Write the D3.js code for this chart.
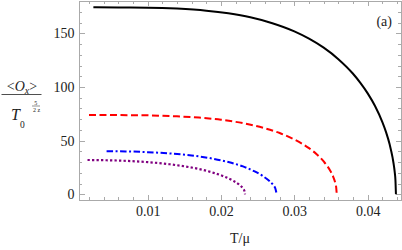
<!DOCTYPE html>
<html>
<head>
<meta charset="utf-8">
<script src="https://cdn.jsdelivr.net/npm/d3@7"></script>
<style>
  body { margin: 0; background: #fff; }
  .frame path, .frame line { stroke: #aaaaaa; stroke-width: 1; shape-rendering: crispEdges; }
</style>
</head>
<body>
<svg id="chart" width="402" height="250"></svg>
<script>
'use strict';
// order parameter <O_x>/T0^(5/2z) versus T/mu
var blackCurve = [[0.0026,174.3],[0.006,174.2],[0.010,174.0],[0.014,173.1],[0.018,171.2],[0.021,168.7],
  [0.024,165.0],[0.027,159.5],[0.030,151.9],[0.032,145.1],[0.034,136.7],[0.036,126.0],[0.038,112.4],
  [0.039,103.9],[0.040,94.1],[0.041,82.3],[0.042,67.3],[0.0425,58.0],[0.043,46.4],[0.0434,33.9],
  [0.0436,25.4],[0.0437,19.7],[0.04378,13.5],[0.04385,0]];
var redCurve = [[0.0020,73.9],[0.006,73.85],[0.010,73.6],[0.014,72.7],[0.017,71.5],[0.020,69.5],
  [0.023,66.3],[0.026,61.5],[0.028,57.1],[0.030,51.1],[0.032,43.0],[0.033,37.6],[0.034,30.6],
  [0.0348,23.1],[0.0353,16.3],[0.0356,10.0],[0.0357,6.7],[0.03578,0]];
var blueCurve = [[0.0044,40.2],[0.007,40.0],[0.010,39.3],[0.013,38.1],[0.016,36.2],[0.019,33.1],
  [0.021,30.1],[0.023,26.0],[0.0245,21.6],[0.0258,16.6],[0.0266,12.4],[0.0271,8.8],[0.0274,5.6],[0.0276,0]];
var purpleCurve = [[0.0018,32.0],[0.004,31.8],[0.007,31.2],[0.010,30.0],[0.013,28.0],[0.015,26.1],
  [0.017,23.6],[0.019,20.0],[0.0205,16.4],[0.0217,12.5],[0.0225,8.9],[0.023,5.4],[0.0232,3.0],[0.02328,0]];

var xTicks = [0.01, 0.02, 0.03, 0.04];
var yTicks = [0, 50, 100, 150];
var xMinor = d3.range(0.002, 0.0445, 0.002);
var yMinor = d3.range(0, 181, 10);

var serif = "'Liberation Serif'";

var svg = d3.select('#chart');
var plotL = 79, plotR = 401, plotT = 1, plotB = 200;

var x = d3.scaleLinear().domain([0.00064, 0.04454]).range([plotL, plotR]);
var y = d3.scaleLinear().domain([-5.3, 180.2]).range([plotB, plotT]);

// frame with inward ticks (Mathematica style)
function minorOnly(vals, majors) {
  return vals.filter(function(v) {
    return !majors.some(function(m) { return Math.abs(m - v) < 1e-9; });
  });
}
var xm = minorOnly(xMinor, xTicks), ym = minorOnly(yMinor, yTicks);

var gB = svg.append('g').attr('class', 'frame').attr('transform', 'translate(0,' + plotB + ')');
gB.call(d3.axisBottom(x).tickValues(xTicks).tickSize(-5).tickPadding(6.5).tickFormat(d3.format('.2f')));
gB.append('g').call(d3.axisBottom(x).tickValues(xm).tickSize(-3).tickFormat('')).select('.domain').remove();

var gT = svg.append('g').attr('class', 'frame').attr('transform', 'translate(0,' + plotT + ')');
gT.call(d3.axisTop(x).tickValues(xTicks).tickSize(-5).tickFormat(''));
gT.append('g').call(d3.axisTop(x).tickValues(xm).tickSize(-3).tickFormat('')).select('.domain').remove();

var gL = svg.append('g').attr('class', 'frame').attr('transform', 'translate(' + plotL + ',0)');
gL.call(d3.axisLeft(y).tickValues(yTicks).tickSize(-5.5).tickPadding(4.5));
gL.append('g').call(d3.axisLeft(y).tickValues(ym).tickSize(-3).tickFormat('')).select('.domain').remove();

var gR = svg.append('g').attr('class', 'frame').attr('transform', 'translate(' + plotR + ',0)');
gR.call(d3.axisRight(y).tickValues(yTicks).tickSize(-5.5).tickFormat(''));
gR.append('g').call(d3.axisRight(y).tickValues(ym).tickSize(-3).tickFormat('')).select('.domain').remove();

svg.selectAll('.frame text')
  .style('font-family', serif).style('font-size', '14px').attr('fill', '#222');

// curves
var line = d3.line()
  .x(function(d) { return x(d[0]); })
  .y(function(d) { return y(d[1]); })
  .curve(d3.curveMonotoneX);

var series = [
  { data: blackCurve, color: '#000', dash: null, width: 2 },
  { data: redCurve, color: '#ff0000', dash: '7,3.5', width: 2 },
  { data: blueCurve, color: '#0000ff', dash: '6.5,2.5,2,2.5', width: 2 },
  { data: purpleCurve, color: '#800080', dash: '2.3,2.2', width: 2.2 }
];
svg.append('g').selectAll('path').data(series).enter().append('path')
  .attr('d', function(d) { return line(d.data); })
  .attr('fill', 'none')
  .attr('stroke', function(d) { return d.color; })
  .attr('stroke-width', function(d) { return d.width; })
  .attr('stroke-dasharray', function(d) { return d.dash; });

var labels = svg.append('g').attr('fill', '#222');
function label(px, py, size, txt) {
  return labels.append('text').attr('x', px).attr('y', py)
    .style('font-family', serif).style('font-size', size + 'px').text(txt);
}

// panel tag
label(392, 26, 14, '(a)').attr('text-anchor', 'end');

// x label
label(240, 243, 14, 'T/\u03bc').attr('text-anchor', 'middle');

// y label: <O_x> over T_0^(5/2z)
var num = label(22, 90.5, 14, null).attr('text-anchor', 'middle');
num.append('tspan').text('<');
num.append('tspan').style('font-style', 'italic').text('O');
num.append('tspan').attr('dy', 3).style('font-size', '10px').style('font-style', 'italic').text('x');
num.append('tspan').attr('dy', -3).text('>');
labels.append('line').attr('x1', 1.5).attr('x2', 41.5).attr('y1', 94.5).attr('y2', 94.5)
  .attr('stroke', '#222').attr('stroke-width', 0.8);
label(11, 120, 16, 'T').style('font-style', 'italic');
label(20, 128, 9.5, '0');
label(35.8, 104.5, 6, '5').attr('text-anchor', 'middle');
labels.append('line').attr('x1', 32).attr('x2', 40).attr('y1', 106).attr('y2', 106)
  .attr('stroke', '#222').attr('stroke-width', 0.5);
label(36.5, 111.5, 6, '2 z').attr('text-anchor', 'middle');
</script>
</body>
</html>
